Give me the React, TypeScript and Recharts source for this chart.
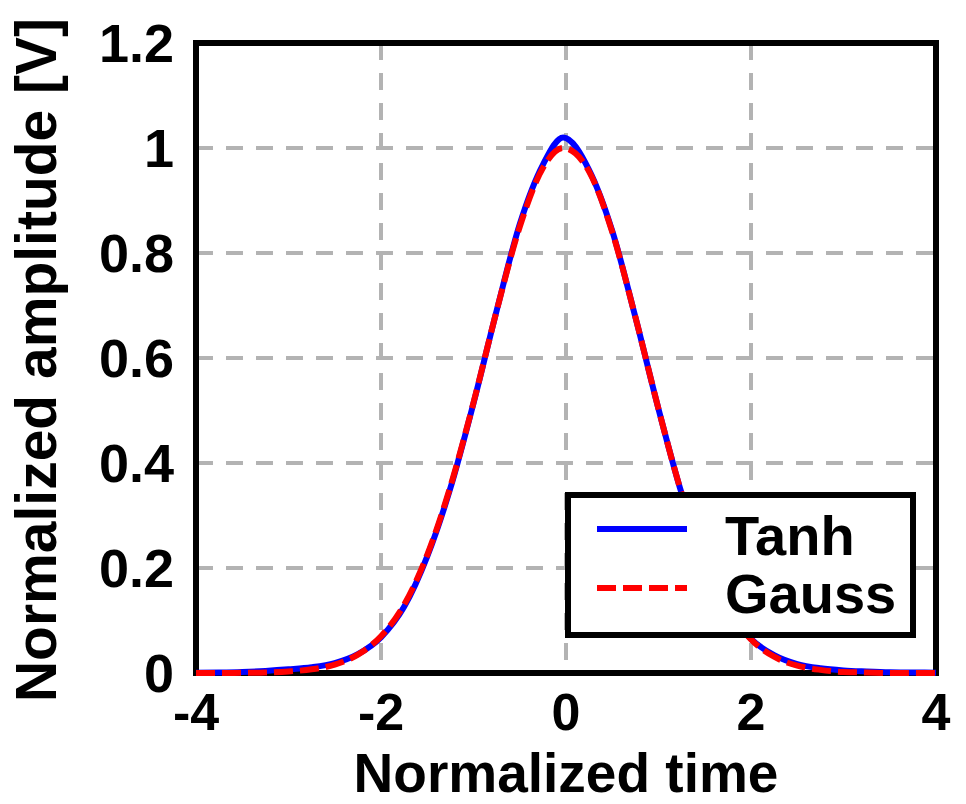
import React from 'react';
import { LineChart, Line, XAxis, YAxis, CartesianGrid, ReferenceArea, Legend } from 'recharts';

// Normalized time axis (sample positions)
const times = [
  -4, -3.75, -3.5, -3.25, -3, -2.75, -2.5, -2.25, -2, -1.75, -1.5, -1.25, -1, -0.75, -0.5, -0.25,
  -0.03, 0.25, 0.5, 0.75, 1, 1.25, 1.5, 1.75, 2, 2.25, 2.5, 2.75, 3, 3.25, 3.5, 3.75, 4,
];

// Tanh pulse
const tanhValues = [
  0.0005, 0.001, 0.002, 0.004, 0.007, 0.011, 0.019, 0.036, 0.068, 0.126, 0.222, 0.352, 0.514, 0.69, 0.855, 0.968,
  1.02, 0.958, 0.842, 0.678, 0.503, 0.342, 0.215, 0.123, 0.065, 0.034, 0.017, 0.009, 0.005, 0.003, 0.0015, 0.001, 0.0005,
];

// Gauss pulse
const gaussValues = [
  0, 0, 0.0003, 0.001, 0.003, 0.007, 0.016, 0.035, 0.07, 0.13, 0.225, 0.355, 0.515, 0.69, 0.85, 0.962,
  1.0, 0.955, 0.84, 0.678, 0.503, 0.342, 0.214, 0.122, 0.064, 0.031, 0.014, 0.006, 0.002, 0.001, 0, 0, 0,
];

const xTicks = [-4, -2, 0, 2, 4];
const yTicks = [0, 0.2, 0.4, 0.6, 0.8, 1, 1.2];

const seriesNames = ['Tanh', 'Gauss'];

const data = times.map((t, i) => ({
  t,
  tanh: tanhValues[i],
  gauss: gaussValues[i],
}));

const FONT = '"Liberation Sans", Arial, sans-serif';

const YTitle = (props: any) => {
  const vb = props.viewBox || {};
  const x = (vb.x || 0) + 56;
  const y = (vb.y || 0) + (vb.height || 0) / 2 + 2;
  return (
    <text
      x={x}
      y={y}
      transform={`rotate(-90, ${x}, ${y})`}
      textAnchor="middle"
      fontFamily={FONT}
      fontWeight="bold"
      fontSize={57}
      fill="#000"
    >
      Normalized amplitude [V]
    </text>
  );
};

const LegendBox = () => (
  <div
    style={{
      position: 'absolute',
      left: 565,
      top: 492,
      width: 351,
      height: 146,
      boxSizing: 'border-box',
      border: '6px solid #000',
      background: '#fff',
    }}
  >
    <svg width={339} height={134} style={{ display: 'block' }}>
      <line x1={26} y1={31} x2={116} y2={31} stroke="#0000ff" strokeWidth={6} />
      <line x1={26} y1={90} x2={116} y2={90} stroke="#ff0000" strokeWidth={6} strokeDasharray="19 7" />
      <text x={154} y={57} fontFamily={FONT} fontWeight="bold" fontSize={56} fill="#000">
        {seriesNames[0]}
      </text>
      <text x={154} y={115} fontFamily={FONT} fontWeight="bold" fontSize={56} fill="#000">
        {seriesNames[1]}
      </text>
    </svg>
  </div>
);

export default function App() {
  return (
    <div style={{ position: 'absolute', left: 0, top: 0, width: 966, height: 804, background: '#fff' }}>
      <LineChart width={966} height={804} data={data} margin={{ top: 43, right: 30, bottom: 0, left: 0 }}>
        <CartesianGrid stroke="#b3b3b3" strokeWidth={4} strokeDasharray="17 13" />
        <XAxis
          dataKey="t"
          type="number"
          domain={[-4, 4]}
          ticks={xTicks}
          height={131}
          axisLine={false}
          tickLine={false}
          tickSize={0}
          tickMargin={20}
          tick={{ fill: '#000', fontSize: 52, fontWeight: 'bold', fontFamily: FONT }}
          label={{
            value: 'Normalized time',
            position: 'insideBottom',
            offset: 12,
            style: { fill: '#000', fontSize: 55, fontWeight: 'bold', fontFamily: FONT },
          }}
        />
        <YAxis
          type="number"
          domain={[0, 1.2]}
          ticks={yTicks}
          width={196}
          axisLine={false}
          tickLine={false}
          tickSize={0}
          tickMargin={22}
          tick={{ fill: '#000', fontSize: 54, fontWeight: 'bold', fontFamily: FONT }}
          label={<YTitle />}
        />
        <ReferenceArea
          x1={-4}
          x2={4}
          y1={0}
          y2={1.2}
          fill="none"
          stroke="#000"
          strokeWidth={6}
          ifOverflow="visible"
        />
        <Line
          type="monotone"
          dataKey="tanh"
          name={seriesNames[0]}
          stroke="#0000ff"
          strokeWidth={6}
          dot={false}
          isAnimationActive={false}
        />
        <Line
          type="monotone"
          dataKey="gauss"
          name={seriesNames[1]}
          stroke="#ff0000"
          strokeWidth={6}
          strokeDasharray="19 7"
          dot={false}
          isAnimationActive={false}
        />
        <Legend
          layout="horizontal"
          verticalAlign="middle"
          align="center"
          wrapperStyle={{ position: 'absolute', left: 0, top: 0, width: 0, height: 0 }}
          content={() => <LegendBox />}
        />
      </LineChart>
    </div>
  );
}
